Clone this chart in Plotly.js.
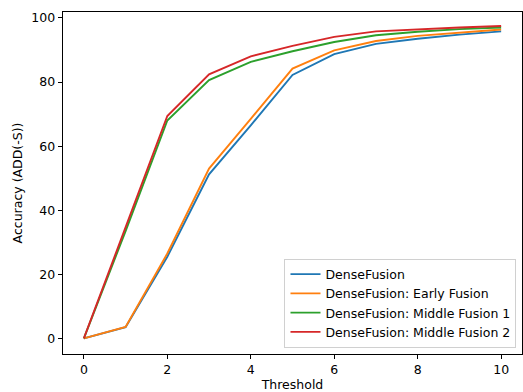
<!DOCTYPE html>
<html>
<head>
<meta charset="utf-8">
<script src="https://cdn.plot.ly/plotly-3.0.1.min.js"></script>
<style>html,body{margin:0;padding:0;background:#fff;}#chart{width:523px;height:392px;}</style>
</head>
<body>
<div id="chart"></div>
<script>
const thresholds = [0, 1, 2, 3, 4, 5, 6, 7, 8, 9, 10];
const denseFusion = [0, 3.5, 25.5, 51.2, 66.5, 82.2, 88.7, 91.9, 93.5, 94.8, 95.8];
const earlyFusion = [0, 3.6, 26.5, 53.0, 68.5, 84.2, 89.9, 92.8, 94.4, 95.5, 96.4];
const middleFusion1 = [0, 33.5, 68.0, 80.6, 86.3, 89.6, 92.5, 94.6, 95.7, 96.5, 97.0];
const middleFusion2 = [0, 34.5, 69.4, 82.4, 88.0, 91.3, 94.1, 95.8, 96.5, 97.0, 97.5];
const seriesNames = ["DenseFusion", "DenseFusion: Early Fusion", "DenseFusion: Middle Fusion 1", "DenseFusion: Middle Fusion 2"];
const seriesColors = ["#1f77b4", "#ff7f0e", "#2ca02c", "#d62728"];
const seriesValues = [denseFusion, earlyFusion, middleFusion1, middleFusion2];
const xTicks = [0, 2, 4, 6, 8, 10];
const yTicks = [0, 20, 40, 60, 80, 100];

const font = {family: "DejaVu Sans", size: 12.5, color: "#000"};
const traces = seriesValues.map((vals, i) => ({
  x: thresholds, y: vals, type: "scatter", mode: "lines",
  name: seriesNames[i], line: {color: seriesColors[i], width: 1.9}
}));

const axisCommon = {
  showline: true, mirror: true, linecolor: "#000", linewidth: 1,
  ticks: "outside", ticklen: 4.4, tickcolor: "#000", tickwidth: 1,
  showgrid: false, zeroline: false, tickfont: font
};

const layout = {
  width: 523, height: 392,
  margin: {l: 63, r: 1, t: 12, b: 38},
  paper_bgcolor: "#fff", plot_bgcolor: "#fff",
  font: font,
  xaxis: Object.assign({}, axisCommon, {
    range: [-0.5, 10.5], tickvals: xTicks, ticktext: xTicks.map(String),
    title: {text: "Threshold", font: font, standoff: 6}
  }),
  yaxis: Object.assign({}, axisCommon, {
    range: [-4.85, 101.85], tickvals: yTicks, ticktext: yTicks.map(String),
    title: {text: "Accuracy (ADD(-S))", font: font, standoff: 5}
  }),
  legend: {
    x: 0.988, xanchor: "right", y: 0.019, yanchor: "bottom",
    bgcolor: "rgba(255,255,255,0.8)", bordercolor: "#d0d0d0", borderwidth: 1,
    font: font, tracegroupgap: 0
  },
  showlegend: true
};

Plotly.newPlot("chart", traces, layout, {displayModeBar: false, staticPlot: true});
</script>
</body>
</html>
